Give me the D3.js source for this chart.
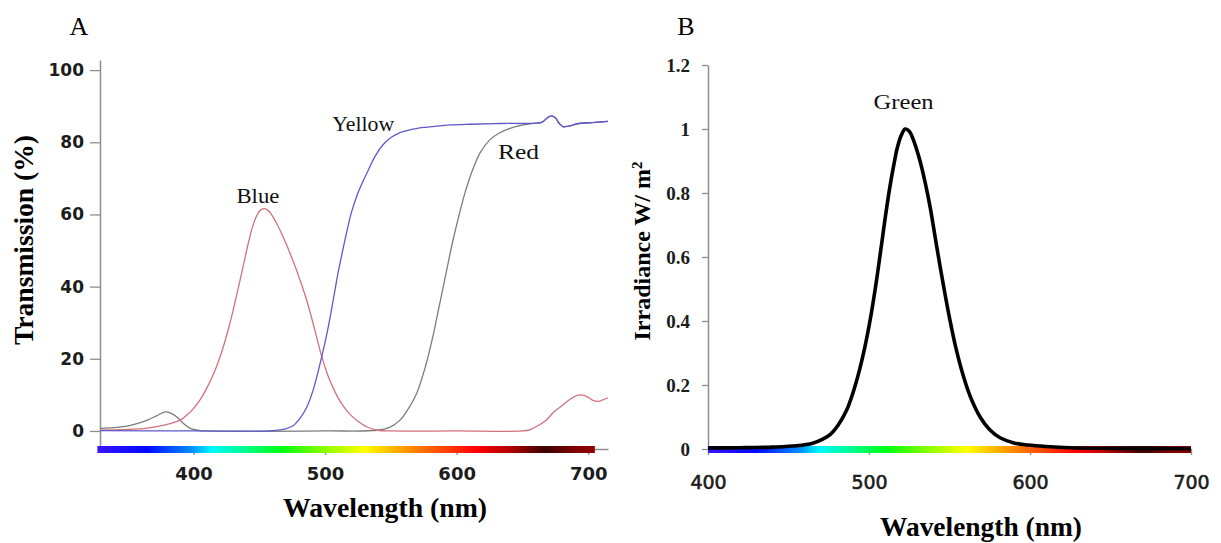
<!DOCTYPE html>
<html>
<head>
<meta charset="utf-8">
<script src="https://cdn.jsdelivr.net/npm/d3@7"></script>
<style>
  body { margin: 0; background: #fff; }
  svg { display: block; }
</style>
</head>
<body>
<div id="chart"></div>
<script>
// panel A: transmission (%) of the three filters, [wavelength nm, value]
const blueFilter = [
  [329,0.2],[350,0.4],[365,0.8],[375,1.4],[383,2.1],[390,3.0],[395,4.4],[400,6.2],[405,8.6],
  [411,12.5],[417,17.3],[422,22.5],[426,27.5],[430,33.2],[434,39.5],[438,46],[442,52.5],
  [446,57.8],[450,60.8],[453.5,61.6],[457,61],[463,57.7],[470,52.2],[476,46.8],[481,41.8],
  [486,36.3],[492,28.3],[497.5,20.6],[503,14.6],[509,9.8],[514,6.8],[519,4.6],[526,2.4],
  [532,1.1],[540,0.2],[550,0],[600,0],[650,0],[656,0.4],[662,1.5],[668,3],[674,5.3],[680,7],
  [686,8.7],[691,9.8],[695,10],[699,9.5],[704,8.4],[708,8.2],[711,8.6],[715,9.2]
];
const yellowFilter = [
  [329,0.1],[400,0],[460,0.1],[470,0.6],[476,1.5],[481,3.5],[486,6.5],[491,11.4],[497.5,20.6],
  [502,28],[506.3,36.5],[510,44],[514,51],[517,56],[520,60.5],[524,65],[528,68.5],[532,71.6],
  [538,76.1],[544,79.3],[550,81.3],[557,82.7],[565,83.5],[575,84.1],[585,84.5],[595,84.8],
  [610,85],[633,85.2],[660,85.3],[665,85.6],[669,86.8],[672,87.3],[675,86.8],[678,85.2],
  [681,84.3],[685,84.5],[693,85.2],[705,85.5],[715,85.8]
];
const redFilter = [
  [329,0.7],[340,0.9],[347,1.2],[355,1.8],[365,3],[372,4.2],[378.5,5.3],[383,4.9],[387,4],
  [392,2.2],[397.5,0.7],[405,0.1],[410,0],[500,0],[540,0.2],[549,1],[557,3],[563,6],
  [569.6,10.4],[576,17.5],[582,26.3],[587,35],[592.4,44.5],[597,52.5],[602.5,60.8],[607,66.8],
  [612.6,72.8],[618,77.2],[625,80.6],[632,82.5],[640,83.8],[650.6,84.8],[660,85.3],
  [665,85.6],[669,86.8],[672,87.3],[675,86.8],[678,85.2],[681,84.3],[685,84.5],[693,85.2],
  [705,85.5],[715,85.8]
];

// panel B: irradiance of the green LED (W/m2)
const greenLed = [
  [400,0.003],[420,0.004],[440,0.006],[455,0.01],[465,0.018],[471,0.03],[476,0.046],[481,0.076],
  [486,0.12],[490,0.175],[494,0.245],[497.5,0.32],[500.6,0.4],[504,0.505],[507,0.61],[510,0.72],
  [513,0.82],[515.5,0.89],[517.5,0.94],[520,0.98],[522.5,1],[525,0.993],[528,0.96],[531.7,0.9],
  [535,0.83],[538,0.755],[541,0.665],[544,0.575],[547,0.49],[550,0.41],[554,0.315],
  [558.6,0.228],[563,0.163],[569,0.1],[575,0.06],[581.4,0.035],[590,0.019],[599,0.0125],
  [610,0.008],[625,0.004],[650,0.002],[700,0.001]
];

const ticksAx = [400, 500, 600, 700];
const ticksAy = [0, 20, 40, 60, 80, 100];
const ticksBx = [400, 500, 600, 700];
const ticksBy = [0, 0.2, 0.4, 0.6, 0.8, 1, 1.2];
const labelsBy = ["0", "0.2", "0.4", "0.6", "0.8", "1", "1.2"];

// rainbow bar under the wavelength axis
const spectrumStops = [
  [0, "#3a14ff"], [0.1, "#0008ff"], [0.19, "#0090ff"], [0.23, "#00f8ff"], [0.37, "#00ff10"],
  [0.46, "#90ff00"], [0.535, "#ffff00"], [0.6, "#ffb000"], [0.64, "#ff8000"], [0.76, "#ff0000"],
  [0.83, "#b00000"], [0.9, "#3c0000"], [0.96, "#800000"], [1, "#900000"]
];

const serif = "'Liberation Serif', 'Times New Roman', serif";
const sans = "'DejaVu Sans', Verdana, sans-serif";
const axisGrey = "#8e8e8e";

const svg = d3.select("#chart").append("svg")
  .attr("width", 1221)
  .attr("height", 543);

svg.append("defs").append("linearGradient")
  .attr("id", "spectrum")
  .selectAll("stop")
  .data(spectrumStops)
  .join("stop")
  .attr("offset", d => d[0])
  .attr("stop-color", d => d[1]);

function styleAxis(g) {
  g.select(".domain").attr("stroke", axisGrey).attr("stroke-width", 1.5);
  g.selectAll(".tick line").attr("stroke", axisGrey).attr("stroke-width", 1.3);
  g.selectAll(".tick text").attr("fill", "#1c1c1c");
}

const smooth = d3.curveCatmullRom.alpha(0.5);

// ---------------- panel A ----------------
const xA = d3.scaleLinear().domain([329, 715]).range([100, 608]);
const yA = d3.scaleLinear().domain([-5, 102.8]).range([449, 60]);

svg.append("g")
  .attr("transform", `translate(0,${yA(-5)})`)
  .call(d3.axisBottom(xA).tickValues(ticksAx).tickSize(6).tickSizeOuter(0))
  .call(styleAxis)
  .call(g => g.selectAll(".tick text")
    .attr("y", 31).attr("dy", 0)
    .style("font", `bold 18px ${sans}`));

svg.append("g")
  .attr("transform", `translate(${xA(329)},0)`)
  .call(d3.axisLeft(yA).tickValues(ticksAy).tickSize(10).tickSizeOuter(0).tickPadding(6))
  .call(styleAxis)
  .call(g => g.selectAll(".tick text").style("font", `bold 17px ${sans}`));

svg.append("rect")
  .attr("x", xA(327))
  .attr("width", xA(705) - xA(327))
  .attr("y", yA(-5) - 3)
  .attr("height", 7)
  .attr("fill", "url(#spectrum)");

const lineA = d3.line()
  .x(d => xA(d[0]))
  .y(d => yA(d[1]))
  .curve(smooth);

const seriesA = [
  {name: "Red", data: redFilter, color: "#7c7c7c"},
  {name: "Blue", data: blueFilter, color: "#d0717c"},
  {name: "Yellow", data: yellowFilter, color: "#5f58cc"}
];

svg.selectAll("path.filter")
  .data(seriesA)
  .join("path")
  .attr("class", "filter")
  .attr("fill", "none")
  .attr("stroke", d => d.color)
  .attr("stroke-width", 1.3)
  .attr("d", d => lineA(d.data));

// curve names, placed in data units
const namesA = [
  {text: "Blue", x: 449, y: 63.2, w: 43},
  {text: "Yellow", x: 529, y: 83, w: 62},
  {text: "Red", x: 647, y: 75.5, w: 41}
];
svg.selectAll("text.nameA")
  .data(namesA)
  .join("text")
  .attr("class", "nameA")
  .attr("x", d => xA(d.x))
  .attr("y", d => yA(d.y))
  .attr("text-anchor", "middle")
  .attr("textLength", d => d.w)
  .attr("lengthAdjust", "spacingAndGlyphs")
  .style("font", `22px ${serif}`)
  .attr("fill", "#111")
  .text(d => d.text);

svg.append("text")
  .attr("x", 79).attr("y", 35)
  .attr("text-anchor", "middle")
  .style("font", `26px ${serif}`)
  .text("A");

svg.append("text")
  .attr("x", 385).attr("y", 517)
  .attr("text-anchor", "middle")
  .attr("textLength", 204)
  .attr("lengthAdjust", "spacingAndGlyphs")
  .style("font", `bold 27px ${serif}`)
  .text("Wavelength (nm)");

svg.append("text")
  .attr("transform", "translate(33,240) rotate(-90)")
  .attr("text-anchor", "middle")
  .attr("textLength", 210)
  .attr("lengthAdjust", "spacingAndGlyphs")
  .style("font", `bold 27px ${serif}`)
  .text("Transmission  (%)");

// ---------------- panel B ----------------
const xB = d3.scaleLinear().domain([400, 700]).range([708, 1191]);
const yB = d3.scaleLinear().domain([0, 1.2]).range([449, 65]);

svg.append("g")
  .attr("transform", `translate(0,${yB(0)})`)
  .call(d3.axisBottom(xB).tickValues(ticksBx).tickSize(6).tickSizeOuter(0))
  .call(styleAxis)
  .call(g => g.selectAll(".tick text")
    .attr("y", 40).attr("dy", 0)
    .attr("stroke", "#1c1c1c")
    .attr("stroke-width", 0.6)
    .style("font", `19px ${sans}`));

svg.append("g")
  .attr("transform", `translate(${xB(400)},0)`)
  .call(d3.axisLeft(yB).tickValues(ticksBy).tickFormat((d, i) => labelsBy[i])
    .tickSize(6).tickSizeOuter(0).tickPadding(12))
  .call(styleAxis)
  .call(g => g.selectAll(".tick text").style("font", `bold 19px ${serif}`));

svg.append("rect")
  .attr("x", xB(400))
  .attr("width", xB(700) - xB(400))
  .attr("y", yB(0) - 3)
  .attr("height", 7)
  .attr("fill", "url(#spectrum)");

const lineB = d3.line()
  .x(d => xB(d[0]))
  .y(d => yB(d[1]))
  .curve(smooth);

svg.append("path")
  .datum(greenLed)
  .attr("fill", "none")
  .attr("stroke", "#000")
  .attr("stroke-width", 3.6)
  .attr("d", lineB);

svg.append("text")
  .attr("x", xB(521.5)).attr("y", yB(1.063))
  .attr("text-anchor", "middle")
  .attr("textLength", 60)
  .attr("lengthAdjust", "spacingAndGlyphs")
  .style("font", `22px ${serif}`)
  .attr("fill", "#111")
  .text("Green");

svg.append("text")
  .attr("x", 686).attr("y", 35)
  .attr("text-anchor", "middle")
  .style("font", `26px ${serif}`)
  .text("B");

svg.append("text")
  .attr("x", 981).attr("y", 536)
  .attr("text-anchor", "middle")
  .attr("textLength", 202)
  .attr("lengthAdjust", "spacingAndGlyphs")
  .style("font", `bold 27px ${serif}`)
  .text("Wavelength (nm)");

const yTitleB = svg.append("text")
  .attr("transform", "translate(650,251) rotate(-90)")
  .attr("text-anchor", "middle")
  .style("font", `bold 24px ${serif}`);
yTitleB.append("tspan").text("Irradiance W/ m");
yTitleB.append("tspan")
  .attr("dy", "-0.55em")
  .style("font-size", "15px")
  .text("2");
</script>
</body>
</html>
